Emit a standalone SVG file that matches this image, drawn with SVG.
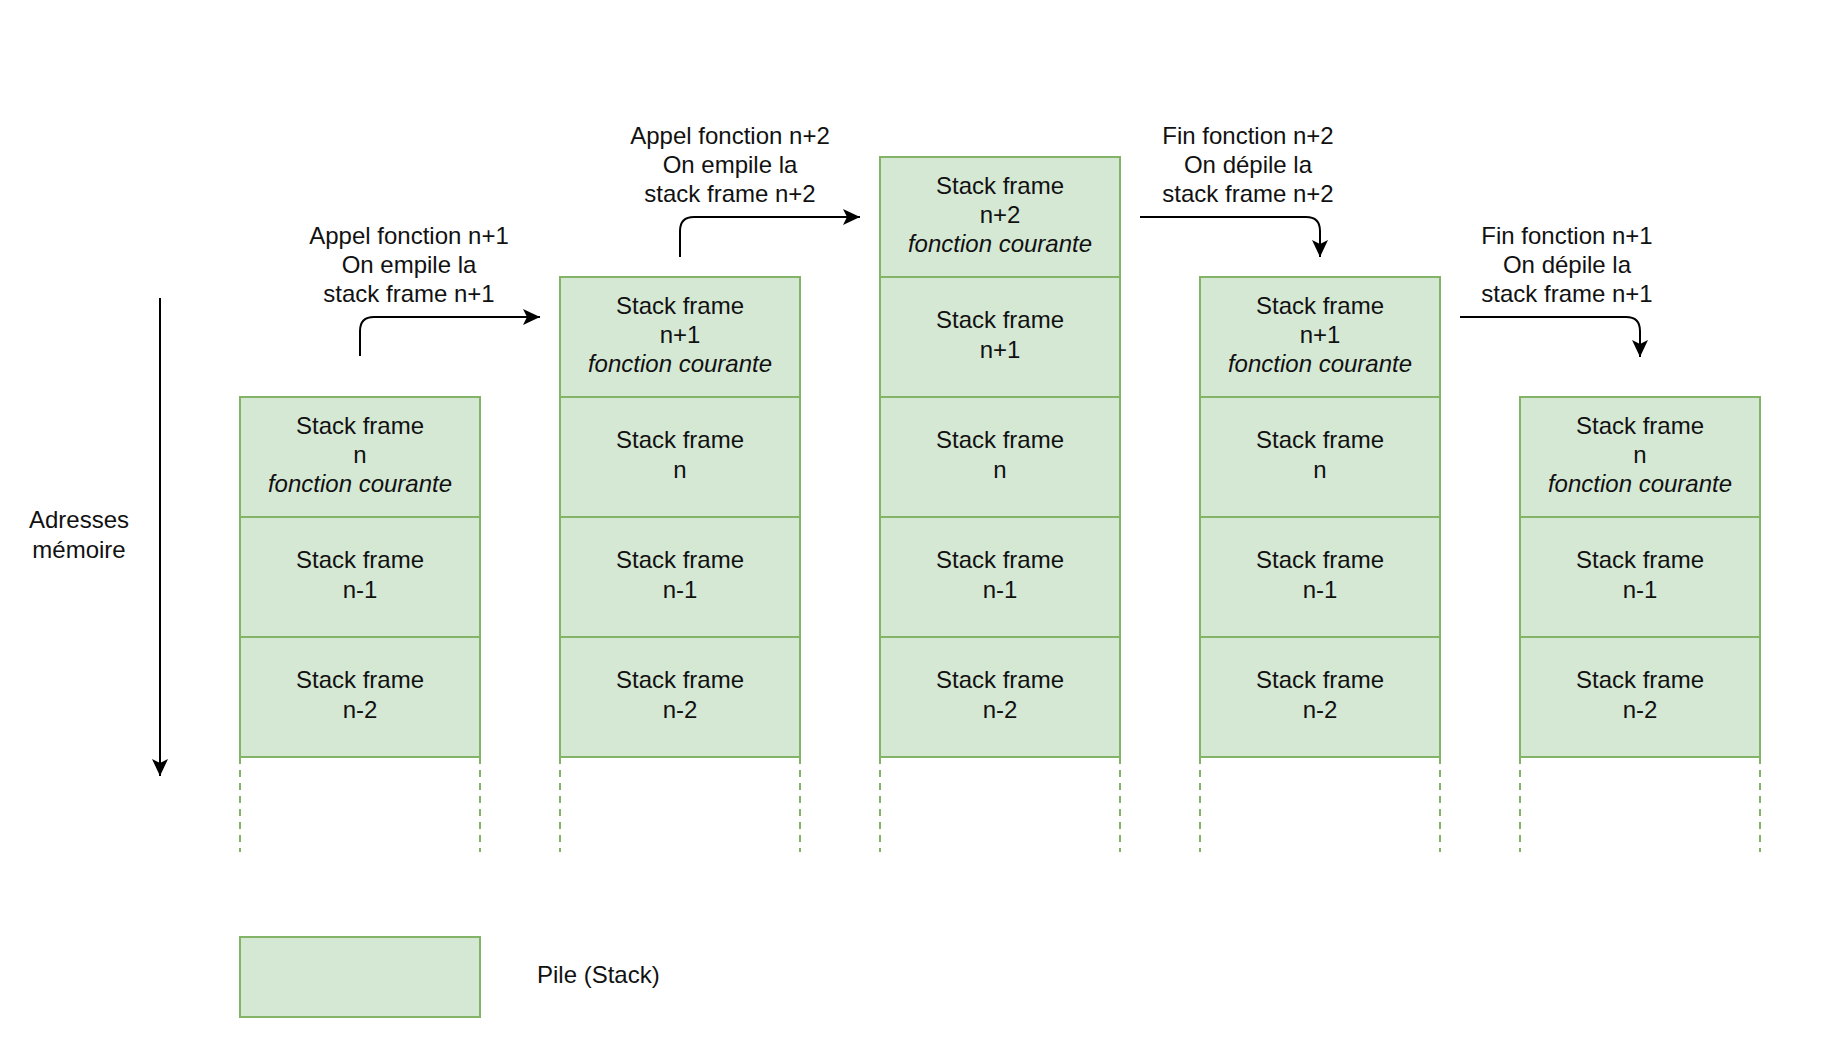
<svg xmlns="http://www.w3.org/2000/svg" width="1830" height="1064" viewBox="0 0 1830 1064">
<defs>
<style>
.cell{fill:#d5e8d4;stroke:#82b366;stroke-width:2}
.dash{stroke:#82b366;stroke-width:2;stroke-dasharray:7 6;fill:none}
text{font-family:"Liberation Sans",Arial,sans-serif;font-size:24px;fill:#111;text-anchor:middle}
.it{font-style:italic}
.conn{fill:none;stroke:#000;stroke-width:2}
</style>
<marker id="arr" markerUnits="userSpaceOnUse" markerWidth="18" markerHeight="18" viewBox="0 0 18 18" refX="17" refY="8" orient="auto">
<path d="M0,0 L17,8 L0,16 L4,8 z" fill="#000"/>
</marker>
</defs>
<rect width="1830" height="1064" fill="#fff"/>

<!-- Column 1 -->
<g id="c1-n"><rect class="cell" x="240" y="397" width="240" height="120"/><text x="360" y="434">Stack frame</text><text x="360" y="463">n</text><text class="it" x="360" y="492">fonction courante</text></g>
<g id="c1-n1"><rect class="cell" x="240" y="517" width="240" height="120"/><text x="360" y="568">Stack frame</text><text x="360" y="598">n-1</text></g>
<g id="c1-n2"><rect class="cell" x="240" y="637" width="240" height="120"/><text x="360" y="688">Stack frame</text><text x="360" y="718">n-2</text></g>
<g id="c1-dash"><line class="dash" x1="240" y1="757" x2="240" y2="852"/><line class="dash" x1="480" y1="757" x2="480" y2="852"/></g>

<!-- Column 2 -->
<g id="c2-np1"><rect class="cell" x="560" y="277" width="240" height="120"/><text x="680" y="314">Stack frame</text><text x="680" y="343">n+1</text><text class="it" x="680" y="372">fonction courante</text></g>
<g id="c2-n"><rect class="cell" x="560" y="397" width="240" height="120"/><text x="680" y="448">Stack frame</text><text x="680" y="478">n</text></g>
<g id="c2-n1"><rect class="cell" x="560" y="517" width="240" height="120"/><text x="680" y="568">Stack frame</text><text x="680" y="598">n-1</text></g>
<g id="c2-n2"><rect class="cell" x="560" y="637" width="240" height="120"/><text x="680" y="688">Stack frame</text><text x="680" y="718">n-2</text></g>
<g id="c2-dash"><line class="dash" x1="560" y1="757" x2="560" y2="852"/><line class="dash" x1="800" y1="757" x2="800" y2="852"/></g>

<!-- Column 3 -->
<g id="c3-np2"><rect class="cell" x="880" y="157" width="240" height="120"/><text x="1000" y="194">Stack frame</text><text x="1000" y="223">n+2</text><text class="it" x="1000" y="252">fonction courante</text></g>
<g id="c3-np1"><rect class="cell" x="880" y="277" width="240" height="120"/><text x="1000" y="328">Stack frame</text><text x="1000" y="358">n+1</text></g>
<g id="c3-n"><rect class="cell" x="880" y="397" width="240" height="120"/><text x="1000" y="448">Stack frame</text><text x="1000" y="478">n</text></g>
<g id="c3-n1"><rect class="cell" x="880" y="517" width="240" height="120"/><text x="1000" y="568">Stack frame</text><text x="1000" y="598">n-1</text></g>
<g id="c3-n2"><rect class="cell" x="880" y="637" width="240" height="120"/><text x="1000" y="688">Stack frame</text><text x="1000" y="718">n-2</text></g>
<g id="c3-dash"><line class="dash" x1="880" y1="757" x2="880" y2="852"/><line class="dash" x1="1120" y1="757" x2="1120" y2="852"/></g>

<!-- Column 4 -->
<g id="c4-np1"><rect class="cell" x="1200" y="277" width="240" height="120"/><text x="1320" y="314">Stack frame</text><text x="1320" y="343">n+1</text><text class="it" x="1320" y="372">fonction courante</text></g>
<g id="c4-n"><rect class="cell" x="1200" y="397" width="240" height="120"/><text x="1320" y="448">Stack frame</text><text x="1320" y="478">n</text></g>
<g id="c4-n1"><rect class="cell" x="1200" y="517" width="240" height="120"/><text x="1320" y="568">Stack frame</text><text x="1320" y="598">n-1</text></g>
<g id="c4-n2"><rect class="cell" x="1200" y="637" width="240" height="120"/><text x="1320" y="688">Stack frame</text><text x="1320" y="718">n-2</text></g>
<g id="c4-dash"><line class="dash" x1="1200" y1="757" x2="1200" y2="852"/><line class="dash" x1="1440" y1="757" x2="1440" y2="852"/></g>

<!-- Column 5 -->
<g id="c5-n"><rect class="cell" x="1520" y="397" width="240" height="120"/><text x="1640" y="434">Stack frame</text><text x="1640" y="463">n</text><text class="it" x="1640" y="492">fonction courante</text></g>
<g id="c5-n1"><rect class="cell" x="1520" y="517" width="240" height="120"/><text x="1640" y="568">Stack frame</text><text x="1640" y="598">n-1</text></g>
<g id="c5-n2"><rect class="cell" x="1520" y="637" width="240" height="120"/><text x="1640" y="688">Stack frame</text><text x="1640" y="718">n-2</text></g>
<g id="c5-dash"><line class="dash" x1="1520" y1="757" x2="1520" y2="852"/><line class="dash" x1="1760" y1="757" x2="1760" y2="852"/></g>

<!-- Labels -->
<g id="label-1"><text x="409" y="244">Appel fonction n+1</text><text x="409" y="273">On empile la</text><text x="409" y="302">stack frame n+1</text></g>
<g id="label-2"><text x="730" y="144">Appel fonction n+2</text><text x="730" y="173">On empile la</text><text x="730" y="202">stack frame n+2</text></g>
<g id="label-3"><text x="1248" y="144">Fin fonction n+2</text><text x="1248" y="173">On dépile la</text><text x="1248" y="202">stack frame n+2</text></g>
<g id="label-4"><text x="1567" y="244">Fin fonction n+1</text><text x="1567" y="273">On dépile la</text><text x="1567" y="302">stack frame n+1</text></g>
<g id="label-mem"><text x="79" y="528">Adresses</text><text x="79" y="558">mémoire</text></g>

<!-- Legend -->
<g id="legend"><rect class="cell" x="240" y="937" width="240" height="80"/><text x="537" y="983" style="text-anchor:start">Pile (Stack)</text></g>

<!-- Connectors -->
<g id="connectors">
<path class="conn" d="M360,356 V331 Q360,317 374,317 H540" marker-end="url(#arr)"/>
<path class="conn" d="M680,257 V231 Q680,217 694,217 H860" marker-end="url(#arr)"/>
<path class="conn" d="M1140,217 H1306 Q1320,217 1320,231 V257" marker-end="url(#arr)"/>
<path class="conn" d="M1460,317 H1626 Q1640,317 1640,331 V357" marker-end="url(#arr)"/>
<path class="conn" d="M160,298 V776" marker-end="url(#arr)"/>
</g>
</svg>
